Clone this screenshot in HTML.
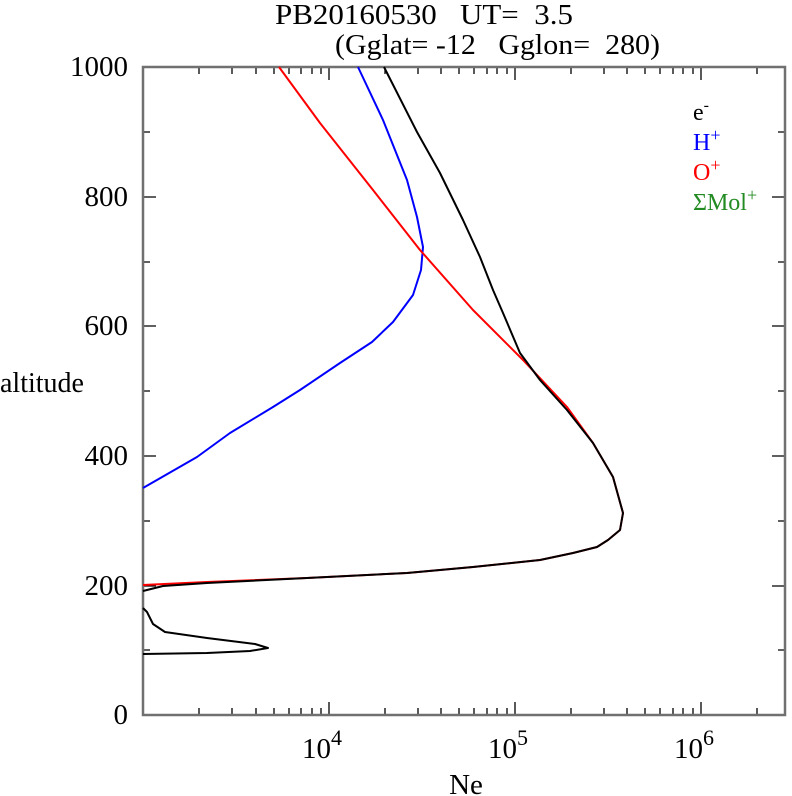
<!DOCTYPE html>
<html><head><meta charset="utf-8"><style>body{margin:0;background:#fff}svg{display:block}text{font-family:"Liberation Serif",serif}</style></head><body>
<svg width="792" height="796" xmlns="http://www.w3.org/2000/svg">
<text x="275" y="24" font-size="28" textLength="298" lengthAdjust="spacingAndGlyphs" xml:space="preserve">PB20160530   UT=  3.5</text>
<text x="335" y="54" font-size="28" textLength="325" lengthAdjust="spacingAndGlyphs" xml:space="preserve">(Gglat= -12   Gglon=  280)</text>
<g stroke="#000" stroke-width="1.3">
<path d="M143 67h13M143 132h7M143 197h13M143 262h7M143 326h13M143 391h7M143 456h13M143 521h7M143 586h13M143 650h7M785 67h-13M785 132h-7M785 197h-13M785 262h-7M785 326h-13M785 391h-7M785 456h-13M785 521h-7M785 586h-13M785 650h-7"/>
<path d="M199 715v-7M232 715v-7M256 715v-7M274 715v-7M289 715v-7M301 715v-7M312 715v-7M321 715v-7M329 715v-13M385 715v-7M418 715v-7M441 715v-7M459 715v-7M474 715v-7M487 715v-7M497 715v-7M507 715v-7M515 715v-13M571 715v-7M604 715v-7M627 715v-7M645 715v-7M660 715v-7M673 715v-7M683 715v-7M693 715v-7M701 715v-13M757 715v-7"/>
<path d="M199 67v7M232 67v7M256 67v7M274 67v7M289 67v7M301 67v7M312 67v7M321 67v7M329 67v13M385 67v7M418 67v7M441 67v7M459 67v7M474 67v7M487 67v7M497 67v7M507 67v7M515 67v13M571 67v7M604 67v7M627 67v7M645 67v7M660 67v7M673 67v7M683 67v7M693 67v7M701 67v13M757 67v7"/>
</g>
<rect x="143" y="67" width="642" height="648" fill="none" stroke="#707070" stroke-width="2.5"/>
<g font-size="29" text-anchor="end">
<text x="128" y="76">1000</text><text x="128" y="206">800</text><text x="128" y="335">600</text><text x="128" y="465">400</text><text x="128" y="595">200</text><text x="128" y="724">0</text>
</g>
<text x="0" y="392" font-size="28">altitude</text>
<g font-size="29" text-anchor="middle">
<text x="322" y="758">10<tspan font-size="22" dy="-13">4</tspan></text>
<text x="508" y="758">10<tspan font-size="22" dy="-13">5</tspan></text>
<text x="694" y="758">10<tspan font-size="22" dy="-13">6</tspan></text>
<text x="466" y="794">Ne</text>
</g>
<g font-size="24">
<text x="693" y="120">e<tspan font-size="16" dy="-10">-</tspan></text>
<text x="693" y="150" fill="#0000ff">H<tspan font-size="18" dy="-9">+</tspan></text>
<text x="693" y="180" fill="#ff0000">O<tspan font-size="18" dy="-9">+</tspan></text>
<text x="693" y="210" fill="#228b22">ΣMol<tspan font-size="18" dy="-9">+</tspan></text>
</g>
<g fill="none" stroke-width="2" stroke-linejoin="round">
<polyline stroke="#0000ff" points="358,67 383,120 407,180 417,217 423,247 421,270 413,295 393,322 372,342 340,363 300,390 273,407 230,433 197,457 143,488"/>
<polyline stroke="#ff0000" points="279,67 320,123 373,190 420,250 473,310 523,360 567,407 593,443 613,477 623,513 620,530 608,540 597,547 573,553 540,560 473,567 407,573 307,578 207,582 143,585"/>
<polyline stroke="#000" points="384,67 417,132 440,173 463,220 480,257 493,290 503,313 520,353 540,380 567,410 593,443 613,477 623,513 620,530 608,540 597,547 573,553 540,560 473,567 407,573 307,578 207,583 163,586 143,591"/>
<polyline stroke="#000" points="143,608 147,612 153,624 165,632 207,638 255,644 268,648 250,651 207,653 143,654"/>
</g>
</svg>
</body></html>
